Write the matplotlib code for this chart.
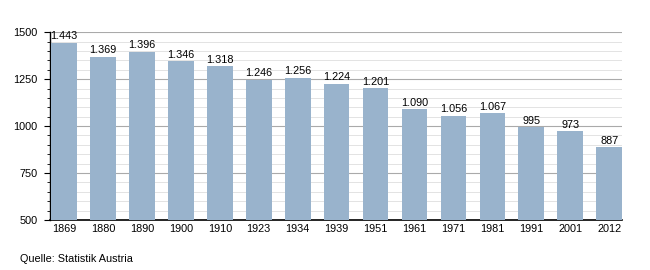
import numpy as np
import matplotlib
matplotlib.use("Agg")
import matplotlib.pyplot as plt
from matplotlib.ticker import MultipleLocator

years = ["1869", "1880", "1890", "1900", "1910", "1923", "1934", "1939",
         "1951", "1961", "1971", "1981", "1991", "2001", "2012"]
population = [1443, 1369, 1396, 1346, 1318, 1246, 1256, 1224,
              1201, 1090, 1056, 1067, 995, 973, 887]
labels = ["1.443", "1.369", "1.396", "1.346", "1.318", "1.246", "1.256", "1.224",
          "1.201", "1.090", "1.056", "1.067", "995", "973", "887"]

plt.rcParams['font.family'] = ['Liberation Sans', 'DejaVu Sans']

fig = plt.figure(figsize=(6.5, 2.7), dpi=100)
ax = fig.add_axes([0.077, 0.185, 0.88, 0.696])

x = np.arange(len(years))
bw = 0.66
ax.bar(x + 0.03, population, width=bw, align="edge", color="#99b3cc", zorder=3)
for xi, v, lab in zip(x, population, labels):
    ax.text(xi + 0.03 + bw / 2, v + 8, lab, ha="center", va="bottom", fontsize=7.8, zorder=4)

ax.set_xlim(0, len(years) - 1 + bw + 0.03)
ax.set_ylim(500, 1500)
ax.set_xticks(x + 0.03 + bw / 2)
ax.set_xticklabels(years, fontsize=7.8)
ax.yaxis.set_major_locator(MultipleLocator(250))
ax.yaxis.set_minor_locator(MultipleLocator(50))
ax.tick_params(axis="y", which="major", length=4, labelsize=7.8, pad=5)
ax.tick_params(axis="y", which="minor", length=2)
ax.tick_params(axis="x", length=0, pad=3)
ax.grid(axis="y", which="major", color="#aaaaaa", linewidth=0.8, zorder=0)
ax.grid(axis="y", which="minor", color="#e3e3e3", linewidth=0.7, zorder=0)
for s in ["top", "right"]:
    ax.spines[s].set_visible(False)
ax.spines["left"].set_linewidth(1.0)
ax.spines["bottom"].set_linewidth(1.2)

fig.text(20 / 650, 1 - 259 / 270, "Quelle: Statistik Austria", fontsize=7.8, va="center")

fig.savefig("out.png", dpi=100)
